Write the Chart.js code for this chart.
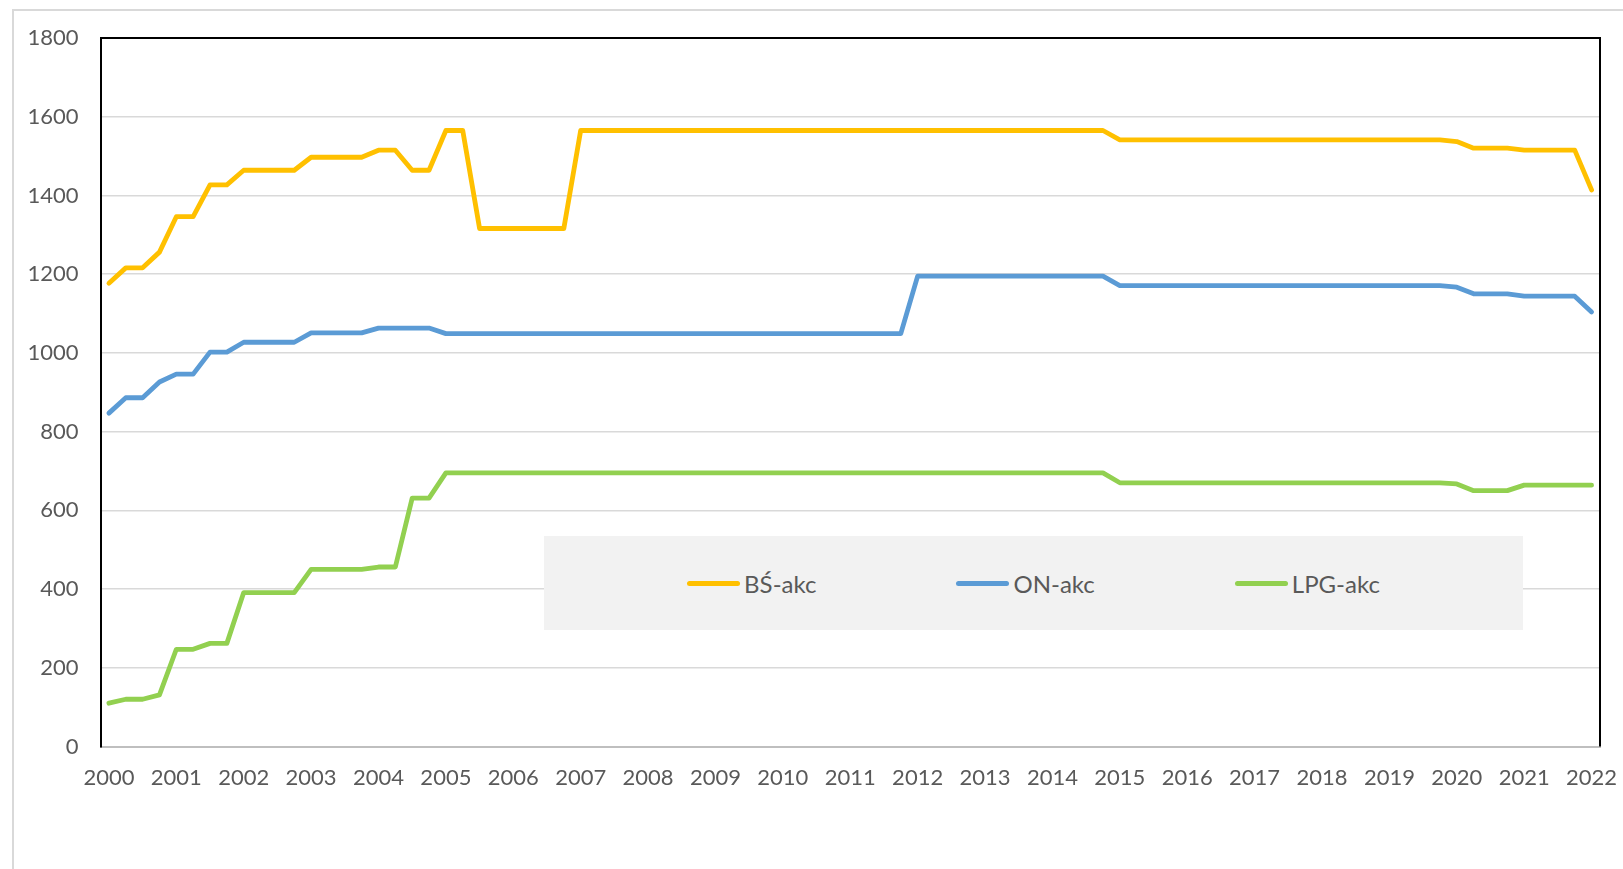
<!DOCTYPE html>
<html>
<head>
<meta charset="utf-8">
<script src="https://cdn.jsdelivr.net/npm/chart.js@4.4.0/dist/chart.umd.min.js"></script>
<style>
  html, body { margin: 0; padding: 0; background: #fff; overflow: hidden; }
  body { width: 1623px; height: 869px; position: relative; font-family: Lato, "Open Sans", sans-serif; }
  #frame { position: absolute; left: 12px; top: 9px; width: 1700px; height: 1000px;
           border-left: 2px solid #d9d9d9; border-top: 2px solid #d9d9d9; box-sizing: border-box; }
  #chart { position: absolute; left: 0; top: 0; }
  #legend { position: absolute; left: 544px; top: 536px; width: 979px; height: 94px;
            background: #f2f2f2; display: flex; justify-content: center; align-items: center; gap: 140px; }
  .item { display: flex; align-items: center; font-size: 24px; color: #595959; white-space: nowrap; }
  .swatch { width: 53px; height: 5px; border-radius: 3px; margin-right: 4px; }
</style>
</head>
<body>
<div id="frame"></div>
<canvas id="chart" width="1623" height="869"></canvas>
<div id="legend"></div>
<script>
// ---- data (quarterly, 2000 Q1 .. 2022 Q1) ----
const years = ['2000','2001','2002','2003','2004','2005','2006','2007','2008','2009','2010',
               '2011','2012','2013','2014','2015','2016','2017','2018','2019','2020','2021','2022'];

const seriesNames = ['BŚ-akc', 'ON-akc', 'LPG-akc'];

const bsAkc = [
  1177,1216,1216,1256, 1346,1346,1427,1427, 1464,1464,1464,1464, 1497,1497,1497,1497,
  1515,1515,1464,1464, 1565,1565,1316,1316, 1316,1316,1316,1316, 1565,1565,1565,1565,
  1565,1565,1565,1565, 1565,1565,1565,1565, 1565,1565,1565,1565, 1565,1565,1565,1565,
  1565,1565,1565,1565, 1565,1565,1565,1565, 1565,1565,1565,1565, 1541,1541,1541,1541,
  1541,1541,1541,1541, 1541,1541,1541,1541, 1541,1541,1541,1541, 1541,1541,1541,1541,
  1537,1520,1520,1520, 1515,1515,1515,1515, 1414
];
const onAkc = [
  847,886,886,926, 946,946,1002,1002, 1027,1027,1027,1027, 1051,1051,1051,1051,
  1063,1063,1063,1063, 1049,1049,1049,1049, 1049,1049,1049,1049, 1049,1049,1049,1049,
  1049,1049,1049,1049, 1049,1049,1049,1049, 1049,1049,1049,1049, 1049,1049,1049,1049,
  1195,1195,1195,1195, 1195,1195,1195,1195, 1195,1195,1195,1195, 1171,1171,1171,1171,
  1171,1171,1171,1171, 1171,1171,1171,1171, 1171,1171,1171,1171, 1171,1171,1171,1171,
  1167,1150,1150,1150, 1144,1144,1144,1144, 1104
];
const lpgAkc = [
  110,120,120,131, 247,247,262,262, 391,391,391,391, 450,450,450,450,
  456,456,631,631, 695,695,695,695, 695,695,695,695, 695,695,695,695,
  695,695,695,695, 695,695,695,695, 695,695,695,695, 695,695,695,695,
  695,695,695,695, 695,695,695,695, 695,695,695,695, 670,670,670,670,
  670,670,670,670, 670,670,670,670, 670,670,670,670, 670,670,670,670,
  667,650,650,650, 664,664,664,664, 664
];

const yTicks = [0, 200, 400, 600, 800, 1000, 1200, 1400, 1600, 1800];
const colors = ['#FFC000', '#5B9BD5', '#92D050'];

// quarterly category labels: year label on Q1, blank for Q2..Q4
const labels = [];
years.forEach((y, i) => {
  labels.push(y);
  if (i < years.length - 1) { labels.push('', '', ''); }
});

const seriesData = [bsAkc, onAkc, lpgAkc];

const frameBorder = {
  id: 'frameBorder',
  afterDraw(chart) {
    const {ctx, chartArea: a} = chart;
    ctx.save();
    ctx.strokeStyle = '#000';
    ctx.lineWidth = 2;
    ctx.beginPath();
    ctx.moveTo(a.left, a.top);
    ctx.lineTo(a.right, a.top);
    ctx.lineTo(a.right, a.bottom);
    ctx.stroke();
    ctx.restore();
  }
};

function build() {
  const font = { family: 'Lato', size: 22 };
  new Chart(document.getElementById('chart'), {
    type: 'line',
    data: {
      labels: labels,
      datasets: seriesNames.map((name, i) => ({
        label: name,
        data: seriesData[i],
        borderColor: colors[i],
        backgroundColor: colors[i],
        borderWidth: 4.8,
        pointRadius: 0,
        tension: 0,
        borderCapStyle: 'round',
        borderJoinStyle: 'round',
        fill: false
      }))
    },
    options: {
      responsive: false,
      devicePixelRatio: 1,
      animation: false,
      layout: { padding: { left: 0, top: 38, right: 23, bottom: 0 } },
      plugins: { legend: { display: false }, tooltip: { enabled: false } },
      scales: {
        x: {
          type: 'category',
          offset: true,
          grid: { display: false, drawTicks: true, tickLength: 18, tickColor: 'rgba(0,0,0,0)' },
          border: { display: true, color: '#bfbfbf', width: 2 },
          ticks: {
            autoSkip: false, maxRotation: 0, minRotation: 0,
            color: '#595959', font: font, padding: 0,
            callback: function (v, idx) { return labels[idx]; }
          },
          afterFit: (s) => { s.height = 122.5; }
        },
        y: {
          min: yTicks[0],
          max: yTicks[yTicks.length - 1],
          afterBuildTicks: (s) => { s.ticks = yTicks.map(v => ({ value: v })); },
          grid: { color: '#d9d9d9', lineWidth: 1.5, drawTicks: false },
          border: { display: true, color: '#000', width: 2 },
          ticks: { color: '#595959', font: font, padding: 22,
                   callback: (v) => String(v) },
          afterFit: (s) => { s.width = 100.5; }
        }
      }
    },
    plugins: [frameBorder]
  });

  const legend = document.getElementById('legend');
  seriesNames.forEach((name, i) => {
    const item = document.createElement('div');
    item.className = 'item';
    const sw = document.createElement('span');
    sw.className = 'swatch';
    sw.style.background = colors[i];
    const tx = document.createElement('span');
    tx.textContent = name;
    item.appendChild(sw);
    item.appendChild(tx);
    legend.appendChild(item);
  });
}

if (document.fonts && document.fonts.load) {
  Promise.all([document.fonts.load('22px Lato'), document.fonts.load('24px Lato')])
    .then(build, build);
} else {
  build();
}
</script>
</body>
</html>
